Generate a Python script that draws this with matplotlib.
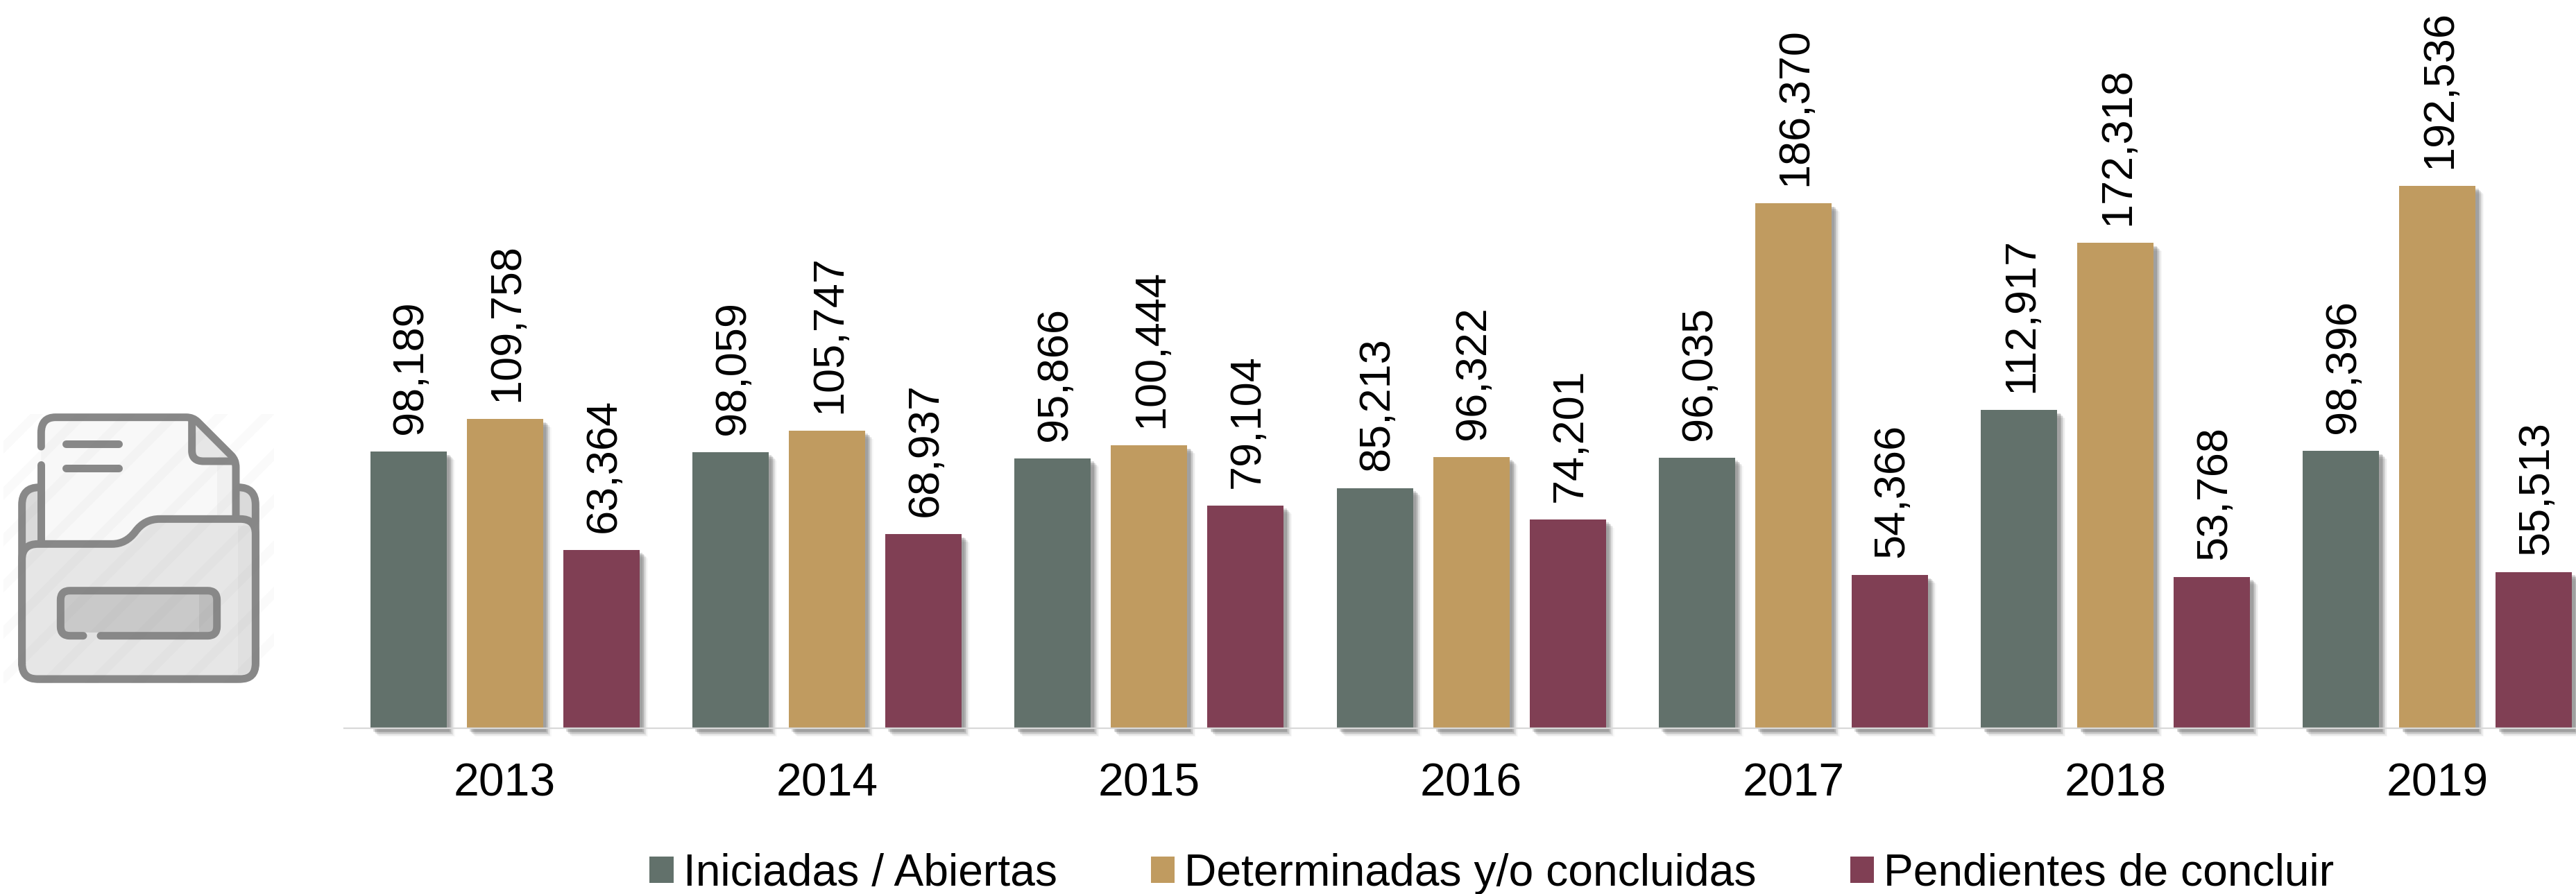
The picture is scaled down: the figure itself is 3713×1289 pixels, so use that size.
import matplotlib
matplotlib.use("Agg")
import matplotlib.pyplot as plt
import matplotlib.patheffects as pe
from matplotlib.patches import Patch, PathPatch, Rectangle
from matplotlib.path import Path
import numpy as np

plt.rcParams['font.family'] = ['Liberation Sans', 'DejaVu Sans']

years = ['2013', '2014', '2015', '2016', '2017', '2018', '2019']
iniciadas = [98189, 98059, 95866, 85213, 96035, 112917, 98396]
determinadas = [109758, 105747, 100444, 96322, 186370, 172318, 192536]
pendientes = [63364, 68937, 79104, 74201, 54366, 53768, 55513]
series_names = ['Iniciadas / Abiertas', 'Determinadas y/o concluidas', 'Pendientes de concluir']
series_colors = ['#62716B', '#C09B60', '#803F54']

W, H = 3713, 1289
DPI = 100
fig = plt.figure(figsize=(W / DPI, H / DPI), dpi=DPI, facecolor='white')

# ---- main chart -------------------------------------------------------
base_y = 1050
cat_w = 464.3
left = 495.5
ax = fig.add_axes([left / W, (H - base_y) / H, (W - left) / W, base_y / H])
ax.patch.set_alpha(0)
ax.set_xlim(-0.5, (W - left) / cat_w - 0.5)
ax.set_ylim(0, base_y / 782 * 192536)

x = np.arange(len(years))
step = 139 / cat_w
width = 110 / cat_w

shadow = [pe.SimplePatchShadow(offset=(d * 0.72, -d * 0.72), shadow_rgbFace='#555555', alpha=a)
          for d, a in [(12, 0.04), (10.5, 0.07), (9, 0.10), (7.5, 0.14), (6, 0.18), (4.5, 0.2)]] + [pe.Normal()]

for i, (vals, col) in enumerate(zip([iniciadas, determinadas, pendientes], series_colors)):
    bars = ax.bar(x + (i - 1) * step, vals, width, color=col, clip_on=False, zorder=2)
    for b in bars:
        b.set_path_effects(shadow)
    labels = ax.bar_label(bars, labels=[f'{v:,}' for v in vals], rotation=90, padding=18,
                          fontsize=45.4, color='black', clip_on=False, zorder=5)
    for t in labels:
        t.xyann = (2.4, t.xyann[1])

for s in ['top', 'right', 'left']:
    ax.spines[s].set_visible(False)
ax.spines['bottom'].set_color('#D9D9D9')
ax.spines['bottom'].set_linewidth(1.6)
ax.spines['bottom'].set_zorder(4)
ax.set_yticks([])
ax.set_xticks(x)
ax.set_xticklabels(years, fontsize=47.5, color='black')
ax.tick_params(axis='x', length=0, pad=36)

handles = [Patch(facecolor=c, edgecolor='none') for c in series_colors]
fig.legend(handles, series_names, ncol=3, loc='lower left',
           bbox_to_anchor=(930 / W, -7 / H), frameon=False, fontsize=46.2,
           handlelength=34 / 64, handleheight=0.52, handletextpad=14 / 64,
           columnspacing=2.11, borderpad=0, borderaxespad=0.1)

# ---- decorative folder icon (drawn in its own pixel-sized overlay) ------
ic = fig.add_axes([0 / W, (H - 1030) / H, 520 / W, 480 / H])
ic.set_xlim(0, 1560)
ic.set_ylim(1440, 0)
ic.axis('off')
GR = '#888888'
LW = 7.9


def mk(cmds):
    v, c = [], []
    for k in cmds:
        if k[0] == 'M':
            v.append(k[1:]); c.append(Path.MOVETO)
        elif k[0] == 'L':
            v.append(k[1:]); c.append(Path.LINETO)
        elif k[0] == 'Q':
            v += [k[1:3], k[3:5]]; c += [Path.CURVE3, Path.CURVE3]
    return Path(v, c)


def draw(cmds, fc='none', ec=GR, lw=LW, z=1):
    p = PathPatch(mk(cmds), facecolor=fc, edgecolor=ec, linewidth=lw, capstyle='round',
                  joinstyle='round', zorder=z)
    ic.add_patch(p)
    return p


def rrect(x0, y0, x1, y1, r):
    return [('M', x0 + r, y0), ('L', x1 - r, y0), ('Q', x1, y0, x1, y0 + r), ('L', x1, y1 - r),
            ('Q', x1, y1, x1 - r, y1), ('L', x0 + r, y1), ('Q', x0, y1, x0, y1 - r),
            ('L', x0, y0 + r), ('Q', x0, y0, x0 + r, y0)]


# back of the folder
draw(rrect(95, 458, 1105, 1287, 75), fc='#DADADA', z=1)
# sheet
sheet = [('M', 178, 700), ('L', 178, 222), ('Q', 178, 155, 240, 155), ('L', 805, 155),
         ('Q', 835, 155, 855, 175), ('L', 1000, 320), ('Q', 1020, 340, 1020, 372), ('L', 1020, 700)]
draw(sheet, fc='#F8F8F8', ec='none', lw=0, z=2)
ic.add_patch(Rectangle((940, 360), 65, 230, facecolor='#F0F0F0', edgecolor='none', zorder=2.1))
draw([('M', 830, 172), ('L', 1010, 345), ('L', 880, 345), ('Q', 830, 345, 830, 300)],
     fc='#E6E6E6', ec='none', lw=0, z=2.2)
draw([('M', 178, 282), ('L', 178, 222), ('Q', 178, 155, 240, 155), ('L', 805, 155),
      ('Q', 835, 155, 855, 175), ('L', 1000, 320), ('Q', 1020, 340, 1020, 372), ('L', 1020, 700)], z=3)
draw([('M', 178, 360), ('L', 178, 700)], z=3)
draw([('M', 830, 172), ('L', 830, 300), ('Q', 830, 345, 880, 345), ('L', 1015, 345)], z=3)
draw([('M', 285, 270), ('L', 512, 270)], z=3)
draw([('M', 285, 374), ('L', 512, 374)], z=3)
# front of the folder
front = [('M', 95, 1220), ('L', 95, 770), ('Q', 95, 703, 165, 703), ('L', 485, 703),
         ('Q', 545, 703, 585, 650), ('Q', 625, 595, 690, 595), ('L', 1040, 595),
         ('Q', 1105, 595, 1105, 660), ('L', 1105, 1220), ('Q', 1105, 1287, 1040, 1287),
         ('L', 160, 1287), ('Q', 95, 1287, 95, 1220)]
draw(front, fc='#E6E6E6', ec='none', lw=0, z=4)
ic.add_patch(Rectangle((1030, 625), 60, 640, facecolor='#E0E0E0', edgecolor='none', zorder=4.1))
draw(front, z=5)
# slot
draw(rrect(262, 905, 938, 1100, 40), fc='#C9C9C9', ec='none', lw=0, z=6)
ic.add_patch(Rectangle((860, 920), 62, 165, facecolor='#BDBDBD', edgecolor='none', zorder=6.1))
ic.add_patch(Rectangle((360, 1085), 75, 20, facecolor='#E6E6E6', edgecolor='none', zorder=6.2))
draw([('M', 360, 1100), ('L', 302, 1100), ('Q', 262, 1100, 262, 1060), ('L', 262, 945),
      ('Q', 262, 905, 302, 905), ('L', 898, 905), ('Q', 938, 905, 938, 945), ('L', 938, 1060),
      ('Q', 938, 1100, 898, 1100), ('L', 435, 1100)], z=7)
# faint diagonal bands
clip = Rectangle((15, 140), 1170, 1165, transform=ic.transData)
for k in np.arange(300, 2500, 200):
    poly = PathPatch(Path([(k - 28, 0), (k + 28, 0), (k + 28 - 1440, 1440), (k - 28 - 1440, 1440), (k - 28, 0)]),
                     facecolor='#777777', edgecolor='none', alpha=0.03, zorder=8)
    ic.add_patch(poly)
    poly.set_clip_path(clip)

fig.savefig('out.png', dpi=DPI, facecolor='white')
